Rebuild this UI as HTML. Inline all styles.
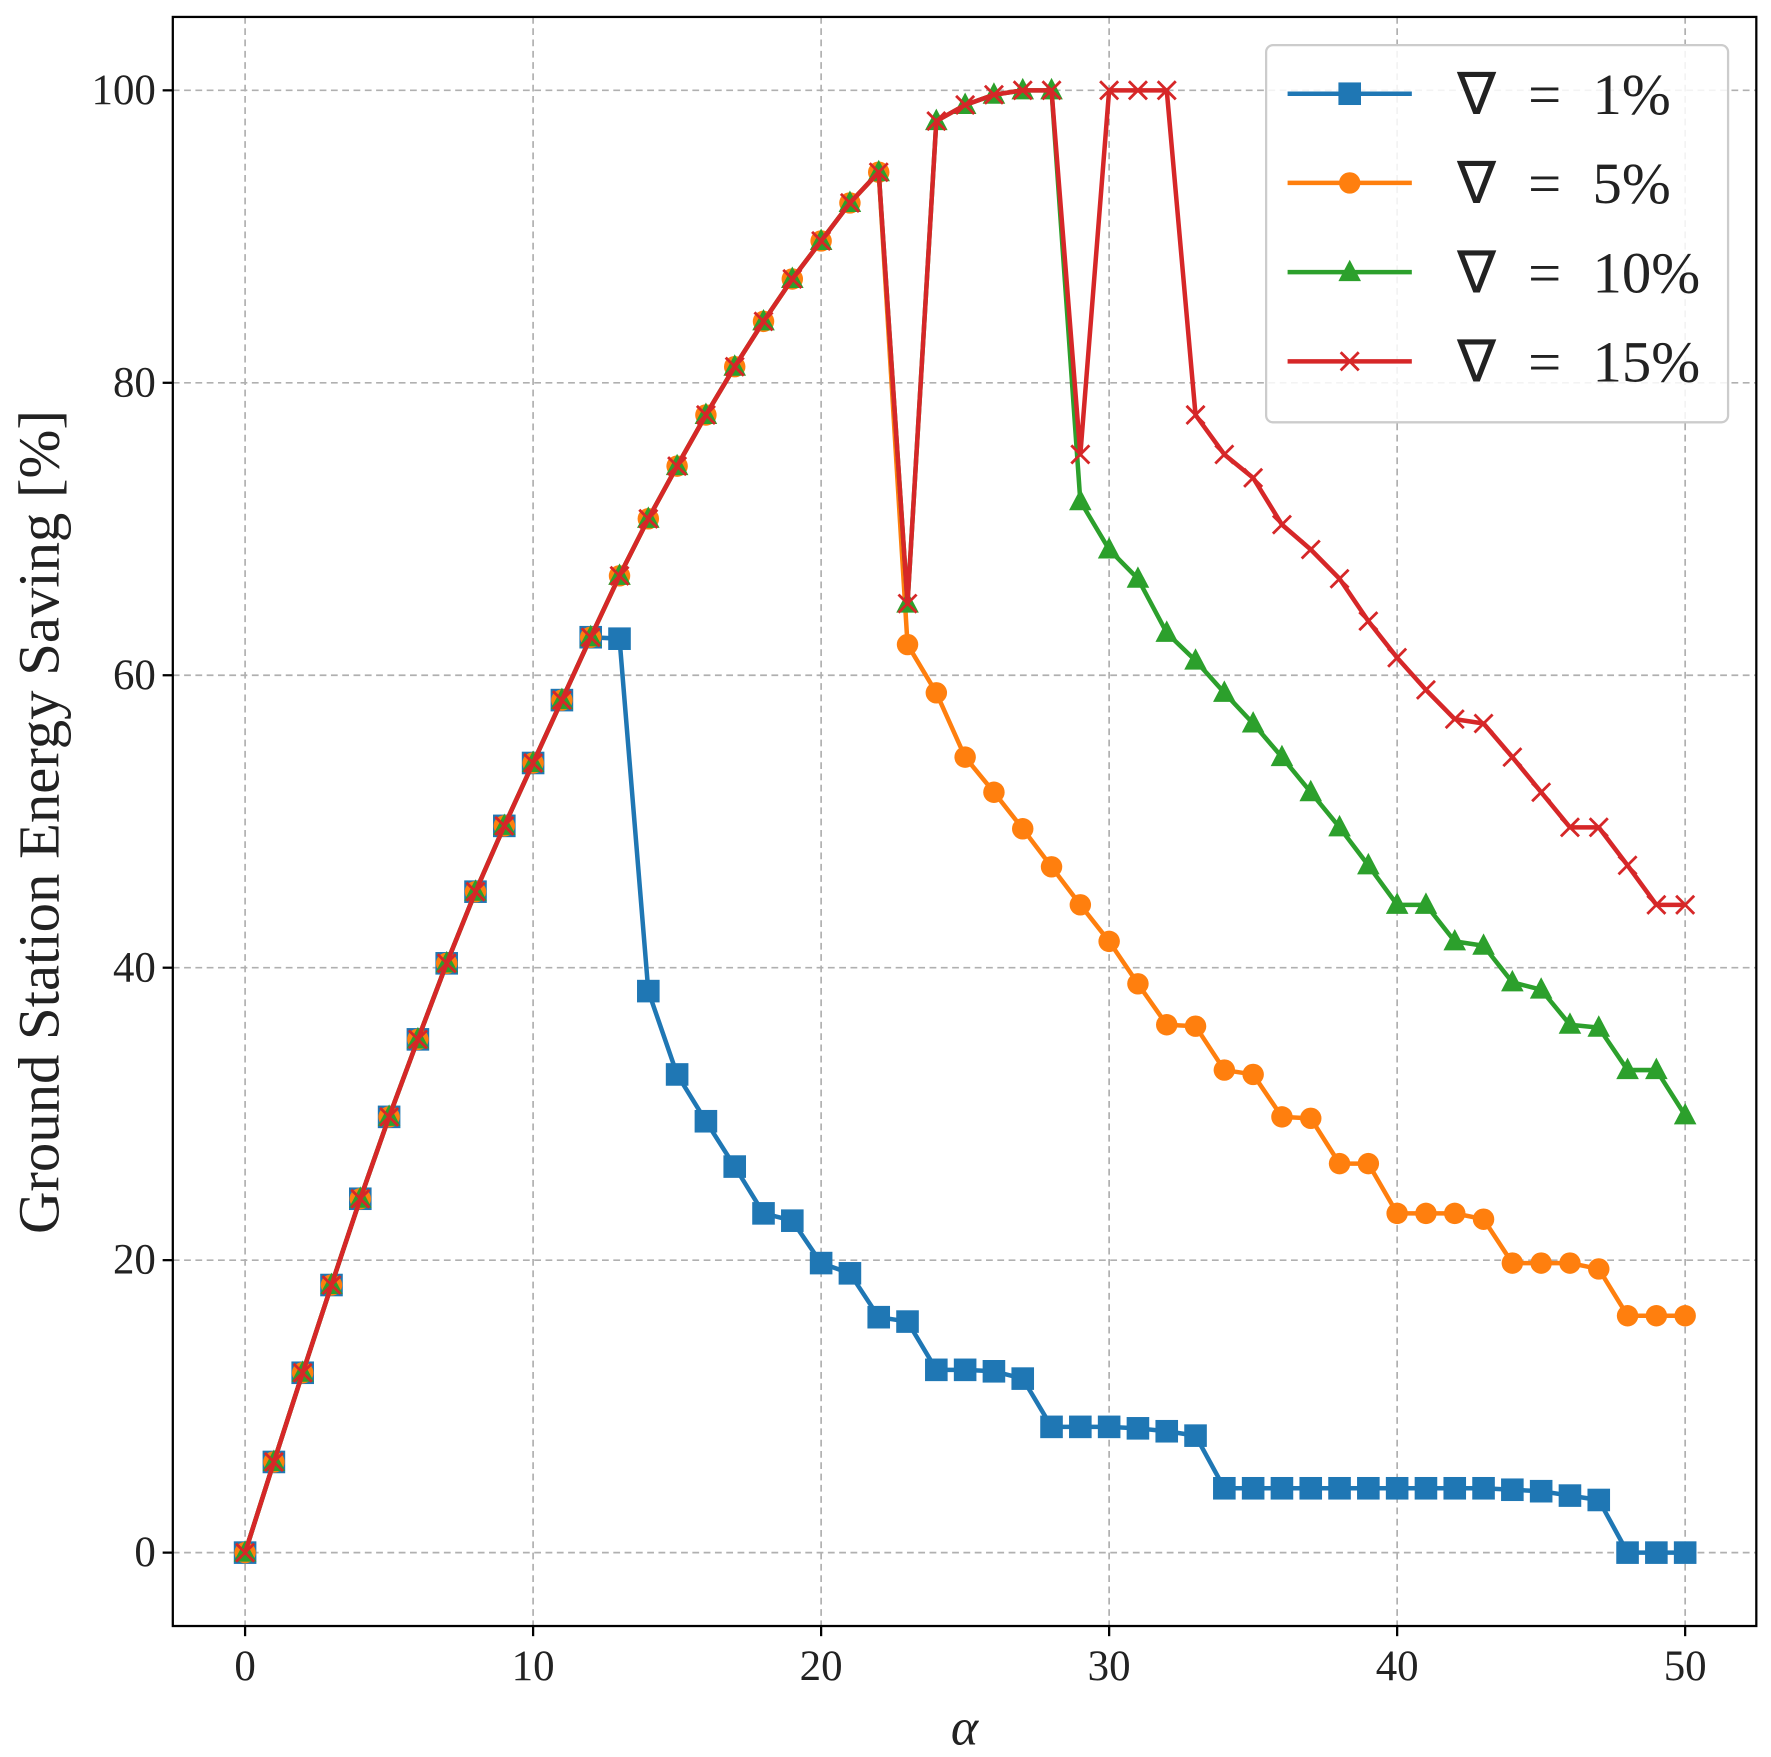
<!DOCTYPE html>
<html><head><meta charset="utf-8"><style>
html,body{margin:0;padding:0;background:#fff}
svg{display:block;font-family:"Liberation Serif",serif}
</style></head><body>
<svg id="chart" width="1771" height="1757" viewBox="0 0 1568 1556" preserveAspectRatio="none" xmlns="http://www.w3.org/2000/svg">
<rect x="0" y="0" width="1568" height="1556" fill="#fff"/>
<g id="grid"></g>
<g id="axes"></g>
<g id="series"></g>
<rect x="153" y="15" width="1402" height="1425" fill="none" stroke="#000" stroke-width="2"/>
<text transform="translate(52,728) rotate(-90)" text-anchor="middle" font-size="52" fill="#222">Ground Station Energy Saving [%]</text>
<text x="854" y="1545" text-anchor="middle" font-size="46" font-style="italic" fill="#222">α</text>
<g id="legend"></g>
</svg>
<script>
const xVals = Array.from({length:51},(_,i)=>i);
const rise = [0,6.2,12.3,18.3,24.2,29.8,35.1,40.3,45.2,49.7,54.0,58.3,62.6,66.8,70.7,74.3,77.8,81.1,84.2,87.1,89.7,92.3,94.4];
const s1 = rise.slice(0,13).concat([62.5,38.4,32.7,29.5,26.4,23.2,22.7,19.8,19.1,16.1,15.8,12.5,12.5,12.4,11.9,8.6,8.6,8.6,8.5,8.3,8.0,4.4,4.4,4.4,4.4,4.4,4.4,4.4,4.4,4.4,4.4,4.3,4.2,3.9,3.6,0,0,0]);
const s5 = rise.concat([62.1,58.8,54.4,52.0,49.5,46.9,44.3,41.8,38.9,36.1,36.0,33.0,32.7,29.8,29.7,26.6,26.6,23.2,23.2,23.2,22.8,19.8,19.8,19.8,19.4,16.2,16.2,16.2]);
const s10 = rise.concat([64.9,97.9,99.0,99.7,100,100,71.9,68.6,66.6,62.9,61.0,58.8,56.7,54.4,52.0,49.6,47.0,44.3,44.3,41.8,41.5,39.0,38.5,36.1,35.9,33.0,33.0,29.9]);
const s15 = rise.concat([64.9,97.9,99.0,99.7,100,100,75.1,100,100,100,77.8,75.1,73.5,70.3,68.6,66.6,63.7,61.2,59.0,57.0,56.7,54.4,52.0,49.6,49.6,47.0,44.3,44.3]);
const xTicks = [0,10,20,30,40,50];
const yTicks = [0,20,40,60,80,100];
const seriesPct = ["1%","5%","10%","15%"];
const colors = ["#1f77b4","#ff7f0e","#2ca02c","#d62728"];
const markers = ["square","circle","triangle","x"];
const names = ["series-1pct","series-5pct","series-10pct","series-15pct"];

const NS="http://www.w3.org/2000/svg";
const X=v=>217+v*25.5, Y=v=>1375-v*12.95;
function el(tag,attrs,parent){const e=document.createElementNS(NS,tag);for(const k in attrs)e.setAttribute(k,attrs[k]);parent.appendChild(e);return e;}
const grid=document.getElementById('grid'), axes=document.getElementById('axes'), ser=document.getElementById('series'), leg=document.getElementById('legend');
xTicks.forEach(t=>{
  const g=el('line',{x1:X(t),x2:X(t),y1:15,y2:1440,stroke:'#b0b0b0','stroke-width':1.5,'stroke-dasharray':'6,4'},grid);
  
  
  el('line',{x1:X(t),x2:X(t),y1:1440,y2:1449,stroke:'#000','stroke-width':2},axes);
  const tx=el('text',{x:X(t),y:1488,'text-anchor':'middle','font-size':38,fill:'#222'},axes);
  tx.textContent=t;
  
  
});
yTicks.forEach(t=>{
  const g=el('line',{x1:153,x2:1555,y1:Y(t),y2:Y(t),stroke:'#b0b0b0','stroke-width':1.5,'stroke-dasharray':'6,4'},grid);
  
  
  el('line',{x1:144,x2:153,y1:Y(t),y2:Y(t),stroke:'#000','stroke-width':2},axes);
  const tx=el('text',{x:138,y:Y(t)+12,'text-anchor':'end','font-size':38,fill:'#222'},axes);
  tx.textContent=t;
  
  
});
function marker(type,cx,cy,c,parent){
  let m;
  if(type==='square') m=el('rect',{x:cx-10,y:cy-10,width:20,height:20,fill:c},parent);
  else if(type==='circle') m=el('circle',{cx:cx,cy:cy,r:9.5,fill:c},parent);
  else if(type==='triangle') m=el('polygon',{points:`${cx},${cy-11} ${cx-10},${cy+8} ${cx+10},${cy+8}`,fill:c},parent);
  else m=el('path',{d:`M${cx-8},${cy-8}L${cx+8},${cy+8}M${cx-8},${cy+8}L${cx+8},${cy-8}`,stroke:c,'stroke-width':2.5,fill:'none'},parent);
  return m;
}
[s1,s5,s10,s15].forEach((s,i)=>{
  const g=el('g',{},ser);
  
  
  const l=el('polyline',{points:s.map((v,j)=>X(xVals[j])+','+Y(v)).join(' '),fill:'none',stroke:colors[i],'stroke-width':4,'stroke-linejoin':'round'},g);
  
  
  s.forEach((v,j)=>{
    const m=marker(markers[i],X(xVals[j]),Y(v),colors[i],g);
    
    
  });
});
const box=el('rect',{x:1121,y:40,width:409,height:334,rx:6,fill:'#fff','fill-opacity':0.85,stroke:'#ccc','stroke-width':2},leg);


seriesPct.forEach((lab,i)=>{
  const y=83+i*79;
  const g=el('g',{},leg);
  
  
  el('line',{x1:1140,x2:1250,y1:y,y2:y,stroke:colors[i],'stroke-width':4},g);
  marker(markers[i],1195,y,colors[i],g);
  const t1=el('text',{x:1290,y:y+18,'font-size':52,fill:'#222'},g);
  t1.textContent='∇';
  const t2=el('text',{x:1353,y:y+18,'font-size':52,fill:'#222'},g);
  t2.textContent='=';
  const t3=el('text',{x:1410,y:y+18,'font-size':52,fill:'#222'},g);
  t3.textContent=lab;
});
</script>
</body></html>
